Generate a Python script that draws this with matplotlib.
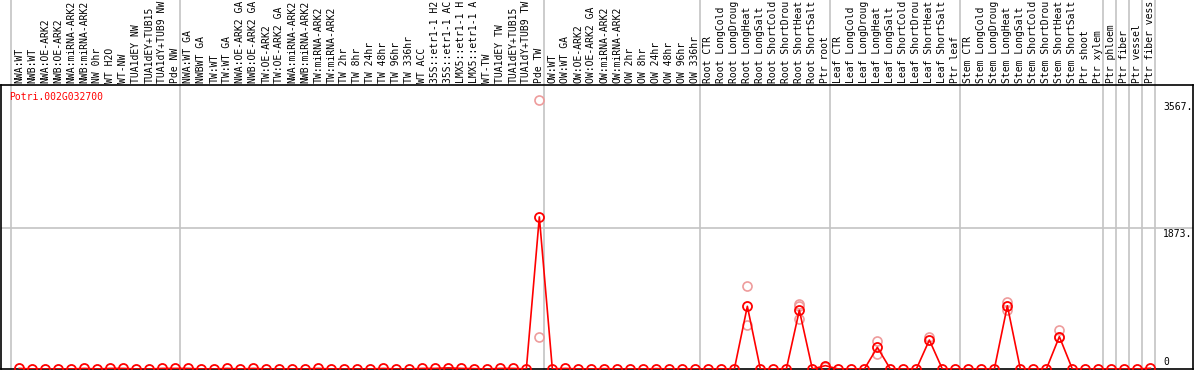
import matplotlib
matplotlib.use("Agg")
import matplotlib.pyplot as plt
import matplotlib.transforms as mtransforms

# sample labels, in plot order
labels = [
    "NWA:WT", "NWB:WT", "NWA:OE-ARK2", "NWB:OE-ARK2", "NWA:miRNA-ARK2", "NWB:miRNA-ARK2",
    "NW 0hr", "WT H2O", "WT-NW", "TUA1dEY NW", "TUA1dEY+TUB15 NW", "TUA1dY+TUB9 NW", "Pde NW",
    "NWA:WT GA", "NWBWT GA", "TW:WT", "TW:WT GA", "NWA:OE-ARK2 GA", "NWB:OE-ARK2 GA",
    "TW:OE-ARK2", "TW:OE-ARK2 GA", "NWA:miRNA-ARK2", "NWB:miRNA-ARK2", "TW:miRNA-ARK2",
    "TW:miRNA-ARK2", "TW 2hr", "TW 8hr", "TW 24hr", "TW 48hr", "TW 96hr", "TW 336hr",
    "WT ACC", "35S::etr1-1 H2O", "35S::etr1-1 ACC", "LMX5::etr1-1 H2O", "LMX5::etr1-1 ACC",
    "WT-TW", "TUA1dEY TW", "TUA1dEY+TUB15 TW", "TUA1dY+TUB9 TW", "Pde TW",
    "OW:WT", "OW:WT GA", "OW:OE-ARK2", "OW:OE-ARK2 GA", "OW:miRNA-ARK2", "OW:miRNA-ARK2",
    "OW 2hr", "OW 8hr", "OW 24hr", "OW 48hr", "OW 96hr", "OW 336hr",
    "Root CTR", "Root LongCold", "Root LongDrought", "Root LongHeat", "Root LongSalt",
    "Root ShortCold", "Root ShortDrought", "Root ShortHeat", "Root ShortSalt", "Ptr root",
    "Leaf CTR", "Leaf LongCold", "Leaf LongDrought", "Leaf LongHeat", "Leaf LongSalt",
    "Leaf ShortCold", "Leaf ShortDrought", "Leaf ShortHeat", "Leaf ShortSalt", "Ptr leaf",
    "Stem CTR", "Stem LongCold", "Stem LongDrought", "Stem LongHeat", "Stem LongSalt",
    "Stem ShortCold", "Stem ShortDrought", "Stem ShortHeat", "Stem ShortSalt",
    "Ptr shoot", "Ptr xylem", "Ptr phloem", "Ptr fiber", "Ptr vessel", "Ptr fiber vessel",
]

# mean expression per sample
means = [
    8, 0, 0, 0, 0, 8, 0, 8, 8, 0, 0, 8, 8,
    8, 0, 0, 8, 0, 8, 0, 0, 0, 0, 8, 0, 0, 0, 0, 8, 0, 0,
    8, 8, 15, 8, 5, 0, 8, 8, 0, 2020,
    0, 8, 0, 0, 5, 0, 0, 0, 5, 0, 0, 0,
    0, 0, 0, 833, 0, 0, 0, 780, 0, 45,
    0, 0, 0, 288, 0, 0, 0, 385, 0, 0,
    0, 0, 0, 840, 0, 0, 0, 430, 0, 0, 0,
    0, 0, 0, 10,
]

# replicate values that show apart from the mean
rep_idx = [40, 40, 56, 56, 60, 60, 60, 62, 66, 66, 70, 76, 76, 80, 80]
rep_vals = [3567, 425, 1103, 580, 860, 837, 668, 30, 372, 203, 425, 894, 784, 518, 425]

# first sample of each group (group separators)
group_starts = [0, 13, 41, 53, 63, 73, 84, 85, 86, 87, 88]

gene = "Potri.002G032700"
ytick_vals = [3567, 1873, 0]
ytick_text = ["3567.", "1873.", "0"]

mono = "DejaVu Sans Mono"
fig = plt.figure(figsize=(11.94, 3.70), dpi=100)
ax = fig.add_axes([1 / 1194, 1 / 370, 1192 / 1194, 284 / 370])

x = list(range(len(labels)))
ax.set_xlim(-1.41, 90.28)
ax.set_ylim(0, 3772)

for g in group_starts:
    ax.axvline(g - 0.62, ymin=0, ymax=1.31, color="#c4c4c4", lw=1.2, clip_on=False, zorder=1)
ax.axhline(ytick_vals[1], color="#c4c4c4", lw=1.2, zorder=1)

ax.plot(rep_idx, rep_vals, "o", ms=6.5, mfc="none", mec="#ee9c9c", mew=1.2, zorder=2, clip_on=False)
ax.plot(x, means, "-", color="red", lw=1.2, zorder=3)
ax.plot(x, means, "o", ms=6.5, mfc="none", mec="red", mew=1.3, zorder=4)

# the source cuts sample names at 14 characters
trans = mtransforms.blended_transform_factory(ax.transData, ax.transAxes)
for i, lab in enumerate(labels):
    ax.text(i, 1.008, lab[:14].rstrip(), rotation=90, ha="center", va="bottom", transform=trans,
            fontsize=7, family=mono, clip_on=False)

ax.text(0.0067, 0.975, gene, transform=ax.transAxes, color="red", fontsize=7,
        family=mono, ha="left", va="top")

for v, t in zip(ytick_vals, ytick_text):
    if v == 0:
        ax.text(88.0, v + 20, t, ha="left", va="bottom", fontsize=7, family=mono)
    else:
        ax.text(88.0, v - 20, t, ha="left", va="top", fontsize=7, family=mono)

ax.set_xticks([])
ax.set_yticks([])
for s in ax.spines.values():
    s.set_color("black")
    s.set_linewidth(1.2)

fig.savefig("out.png", dpi=100)
